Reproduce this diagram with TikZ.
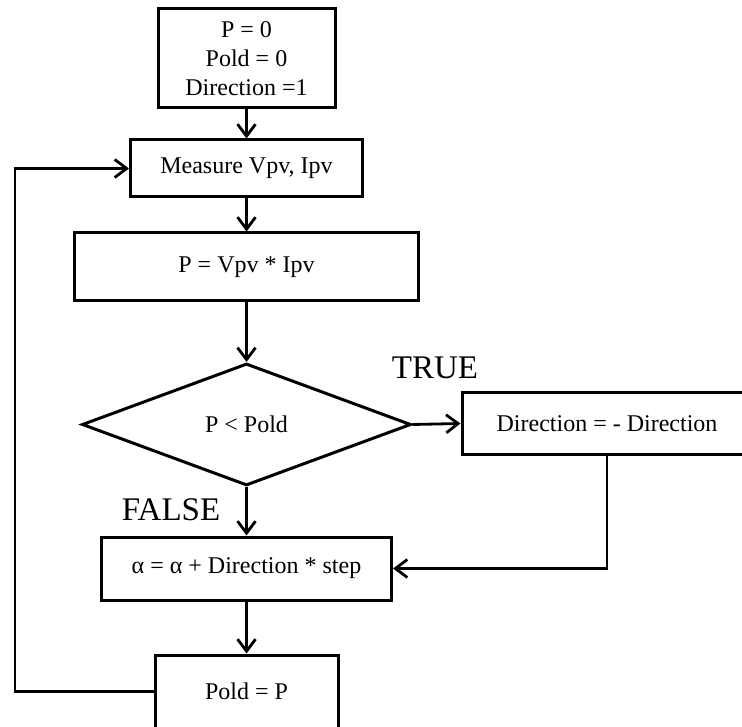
\documentclass[tikz,border=0pt]{standalone}
\usepackage{fontspec}
\setmainfont{Liberation Serif}
\usetikzlibrary{shapes.geometric,arrows.meta}
\begin{document}
\begin{tikzpicture}[x=1pt,y=-1pt,
  box/.style={draw,line width=3pt,inner sep=0pt,align=center,font=\fontsize{24}{29}\selectfont},
  decision/.style={draw,diamond,line width=3pt,inner sep=0pt,font=\fontsize{24}{29}\selectfont},
  lbl/.style={inner sep=0pt,font=\fontsize{33}{38}\selectfont},
  arr/.style={line width=2.8pt,-{Straight Barb[length=12pt,width=18pt,line width=2.8pt]}},
  ln/.style={line width=2.8pt}]
\useasboundingbox (0,0) rectangle (742,727);
\node[box,minimum width=177pt,minimum height=99pt] (init) at (246.5,58.5) {P = 0\\Pold = 0\\Direction =1};
\node[box,minimum width=232pt,minimum height=57pt] (meas) at (246.5,168.5) {Measure Vpv, Ipv};
\node[box,minimum width=344pt,minimum height=68pt] (pow) at (246.5,267) {P = Vpv * Ipv};
\node[decision,minimum width=329pt,minimum height=122pt] (dec) at (246.5,424.5) {P < Pold};
\node[box,minimum width=290pt,minimum height=61pt] (dir) at (607,423.5) {Direction = - Direction};
\node[box,minimum width=290pt,minimum height=63pt] (alpha) at (246.5,568.5) {α = α + Direction * step};
\node[box,minimum width=183pt,minimum height=73pt] (pold) at (246.5,691.5) {Pold = P};
\node[lbl] (true) at (435,368) {TRUE};
\node[lbl] (false) at (171,510) {FALSE};
\coordinate (loop) at (15,691.5);
\draw[arr] (init.south) -- (meas.north);
\draw[arr] (meas.south) -- (pow.north);
\draw[arr] (pow.south) -- (dec.north);
\draw[arr] (dec.east) -- (dir.west);
\draw[arr] (dec.south) -- (alpha.north);
\draw[arr] (dir.south) |- (alpha.east);
\draw[arr] (alpha.south) -- (pold.north);
\draw[arr] (pold.west) -- (loop) |- (meas.west);
\end{tikzpicture}
\end{document}
